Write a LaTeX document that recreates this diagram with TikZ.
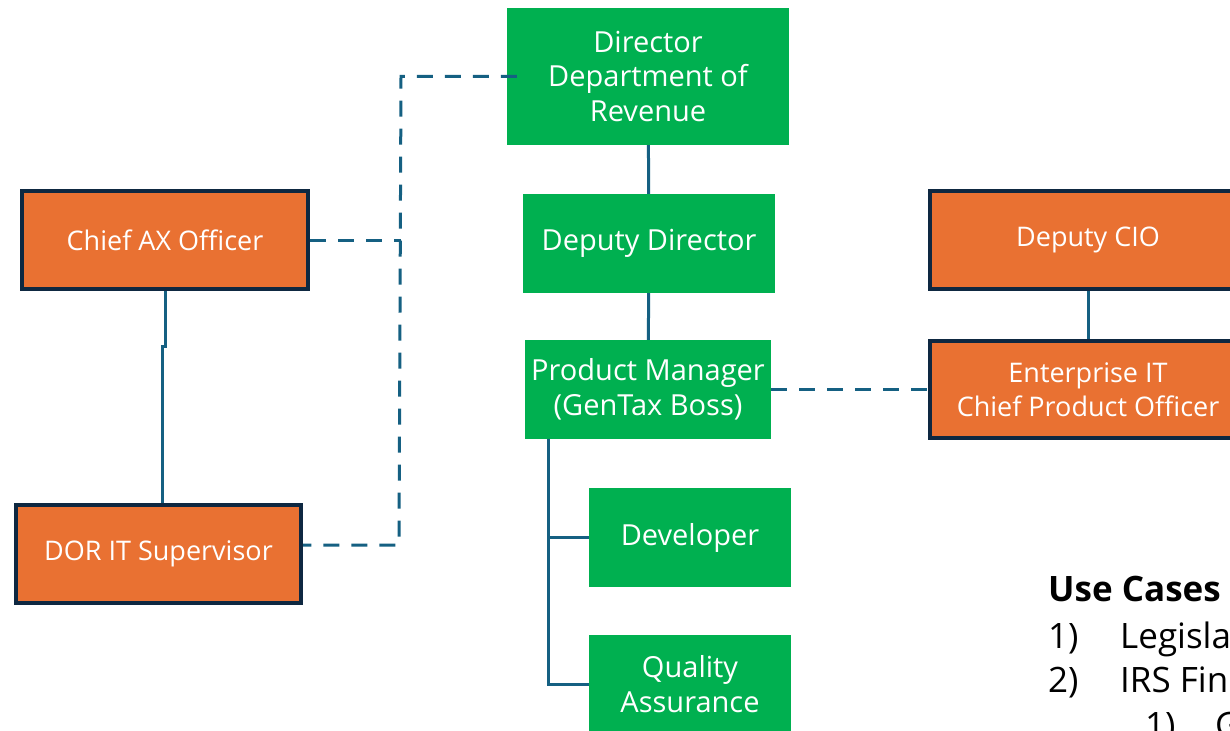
\documentclass[tikz,border=0pt]{standalone}
\usepackage{fontspec}
\setmainfont{Open Sans}
\usepackage{xcolor}
\usepackage{tikz}
\usetikzlibrary{positioning}

\definecolor{boxgreen}{HTML}{00B050}
\definecolor{boxorange}{HTML}{E97132}
\definecolor{boxedge}{HTML}{0E2841}
\definecolor{linkblue}{HTML}{156082}

\begin{document}
\begin{tikzpicture}[x=1pt, y=-1pt,
    line cap=butt, line join=miter,
    greenbox/.style={fill=boxgreen, text=white, align=center, inner sep=0pt,
      font=\fontsize{29}{34.5}\selectfont},
    orangebox/.style={fill=boxorange, draw=boxedge, line width=4pt, text=white,
      align=center, inner sep=0pt, font=\fontsize{27}{34}\selectfont},
    link/.style={linkblue, line width=3pt},
    dashlink/.style={link, dash pattern=on 16pt off 12pt},
    usetext/.style={anchor=base west, inner sep=0pt, font=\fontsize{35}{42}\selectfont}]
\clip (0,0) rectangle (1230,730);
\fill[white] (0,0) rectangle (1230,730);

% GREEN BOXES
\node[greenbox, minimum width=282, minimum height=137] (dir) at (648,76.5)
  {Director\\Department of\\Revenue};
\node[greenbox, minimum width=252, minimum height=99] (dd) at (649,243.5)
  {Deputy Director};
\node[greenbox, minimum width=246, minimum height=99] (pm) at (648,389.5)
  {Product Manager\\(GenTax Boss)};
\node[greenbox, minimum width=202, minimum height=99] (dev) at (690,537.5)
  {Developer};
\node[greenbox, minimum width=202, minimum height=99] (qa) at (690,684)
  {Quality\\Assurance};

% ORANGE BOXES
\node[orangebox, minimum width=286, minimum height=98] (ax) at (165,240)
  {Chief AX Officer};
\node[orangebox, minimum width=285, minimum height=98] (dor) at (158.5,554)
  {DOR IT Supervisor};
\node[orangebox, minimum width=316, minimum height=98] (cio) at (1088,240)
  {Deputy CIO};
\node[orangebox, minimum width=316, minimum height=97] (ent) at (1088,389.5)
  {Enterprise IT\\Chief Product Officer};

% SOLID LINKS
\draw[link] (dir) -- (dd);
\draw[link] (dd) -- (pm);
\draw[link] (cio) -- (ent);
\draw[link] (pm.south west) ++(24,0) |- (dev.west);
\draw[link] (pm.south west) ++(24,0) |- (qa.west);
\draw[link] (ax.south) -- ++(0,55) -| ([xshift=-2.5]ax.south |- dor.north);

% DASHED LINKS
\coordinate (jt) at (401,76.5);
\coordinate (jb) at (399,545);
\draw[dashlink] ([xshift=10]dir.west) -- (jt) -- (jb) -- (dor.east |- jb);
\draw[dashlink] (ax.east) -- (ax.east -| jt);
\draw[dashlink] (pm) -- (ent);

% USE CASES
\node[usetext, font=\fontsize{35}{42}\selectfont\bfseries] (uc) at (1048,601) {Use Cases};
\node[usetext] (n1) at (1048,648) {1)};
\node[usetext] (t1) at (1120,648) {Legisla};
\node[usetext] (n2) at (1048,692) {2)};
\node[usetext] (t2) at (1120,692) {IRS Fin};
\node[usetext] (n3) at (1145,737) {1)};
\node[usetext] (t3) at (1215,737) {G};
\end{tikzpicture}
\end{document}
